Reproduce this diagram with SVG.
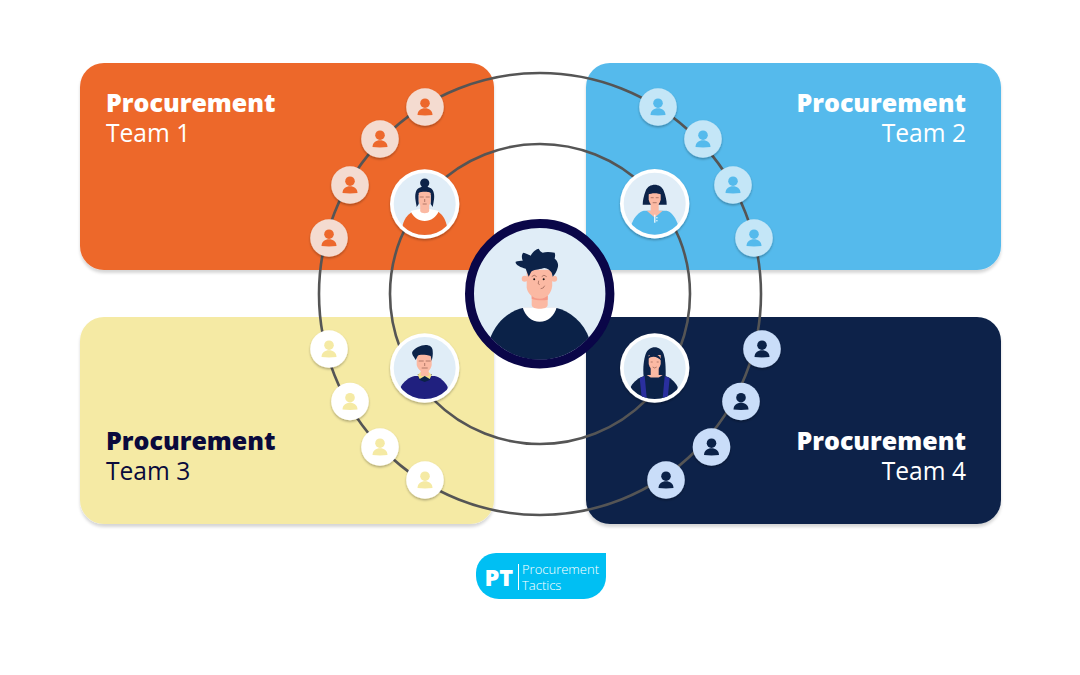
<svg xmlns="http://www.w3.org/2000/svg" width="1080" height="675" viewBox="0 0 1080 675">
<style>
.bg{fill:#fff}
.card{filter:url(#cs)}
.title{font-family:"Open Sans","Noto Sans",sans-serif;font-weight:800;font-size:25px}
.sub{font-family:"Open Sans","Noto Sans",sans-serif;font-weight:400;font-size:24.6px}
.ring{fill:none;stroke:#555;stroke-width:2.6}
.dot{filter:url(#ds)}
.pr{fill:#fff;filter:url(#ds)}
.pb{fill:#e0edf7}
.skin{fill:#fbb9a3}
.hair{fill:#0c2349}
.white{fill:#fff}
.line{fill:none;stroke:#6b3a30;stroke-width:.5}
</style>
<defs>
<filter id="cs" x="-5%" y="-5%" width="110%" height="112%"><feDropShadow dx="0" dy="3" stdDeviation="1.5" flood-color="#000" flood-opacity=".16"/></filter>
<filter id="ds" x="-20%" y="-20%" width="140%" height="140%"><feDropShadow dx="0" dy="1.5" stdDeviation="1.2" flood-color="#000" flood-opacity=".3"/></filter>
<clipPath id="cp"><circle r="31"/></clipPath>
<clipPath id="cc"><circle r="66"/></clipPath>
<g id="person"><circle cy="-3.800" r="4.800"/><path d="M-7.500,8 C-7.500,3.500 -4,1.200 0,1.200 C4,1.200 7.500,3.500 7.500,8 Q0,8.800 -7.500,8 Z"/></g>
</defs>
<rect class="bg" width="1080" height="675"/>
<g id="team-1" class="card"><rect x="80" y="63" width="414" height="207" rx="24" fill="#ed682c"/></g>
<g id="team-2" class="card"><rect x="586" y="63" width="415" height="207" rx="24" fill="#55baec"/></g>
<g id="team-3" class="card"><rect x="80" y="317" width="414" height="207" rx="24" fill="#f5eaa4"/></g>
<g id="team-4" class="card"><rect x="586" y="317" width="415" height="207" rx="24" fill="#0b2248"/></g>
<g id="connectors">
<circle class="ring" cx="540" cy="294" r="221"/>
<circle class="ring" cx="540" cy="294" r="150"/>
</g>
<g id="team-labels">
<text class="title" x="106" y="112" fill="#fff">Procurement</text>
<text class="sub" x="106" y="142" fill="#fff">Team 1</text>
<text class="title" x="966" y="112" fill="#fff" text-anchor="end">Procurement</text>
<text class="sub" x="966" y="142" fill="#fff" text-anchor="end">Team 2</text>
<text class="title" x="106" y="450" fill="#0a0a3c">Procurement</text>
<text class="sub" x="106" y="480" fill="#0a0a3c">Team 3</text>
<text class="title" x="966" y="450" fill="#fff" text-anchor="end">Procurement</text>
<text class="sub" x="966" y="480" fill="#fff" text-anchor="end">Team 4</text>
</g>
<g id="members-1" fill="#ed682c">
<g id="m1a" transform="translate(425,107)"><circle class="dot" r="18.800" fill="#f4dbd0"/><use href="#person"/></g>
<g id="m1b" transform="translate(380,139)"><circle class="dot" r="18.800" fill="#f4dbd0"/><use href="#person"/></g>
<g id="m1c" transform="translate(350,185)"><circle class="dot" r="18.800" fill="#f4dbd0"/><use href="#person"/></g>
<g id="m1d" transform="translate(329,238)"><circle class="dot" r="18.800" fill="#f4dbd0"/><use href="#person"/></g>
</g>
<g id="members-2" fill="#55baec">
<g id="m2a" transform="translate(658,107)"><circle class="dot" r="18.800" fill="#c4e6f7"/><use href="#person"/></g>
<g id="m2b" transform="translate(703,139)"><circle class="dot" r="18.800" fill="#c4e6f7"/><use href="#person"/></g>
<g id="m2c" transform="translate(733,185)"><circle class="dot" r="18.800" fill="#c4e6f7"/><use href="#person"/></g>
<g id="m2d" transform="translate(754,238)"><circle class="dot" r="18.800" fill="#c4e6f7"/><use href="#person"/></g>
</g>
<g id="members-3" fill="#f5eaa4">
<g id="m3a" transform="translate(329,349)"><circle class="dot" r="18.800" fill="#fff"/><use href="#person"/></g>
<g id="m3b" transform="translate(350,401.500)"><circle class="dot" r="18.800" fill="#fff"/><use href="#person"/></g>
<g id="m3c" transform="translate(380,447)"><circle class="dot" r="18.800" fill="#fff"/><use href="#person"/></g>
<g id="m3d" transform="translate(425,480)"><circle class="dot" r="18.800" fill="#fff"/><use href="#person"/></g>
</g>
<g id="members-4" fill="#0b2248">
<g id="m4a" transform="translate(762,349)"><circle class="dot" r="18.800" fill="#c9ddf9"/><use href="#person"/></g>
<g id="m4b" transform="translate(741,401.500)"><circle class="dot" r="18.800" fill="#c9ddf9"/><use href="#person"/></g>
<g id="m4c" transform="translate(711.500,447)"><circle class="dot" r="18.800" fill="#c9ddf9"/><use href="#person"/></g>
<g id="m4d" transform="translate(666,480)"><circle class="dot" r="18.800" fill="#c9ddf9"/><use href="#person"/></g>
</g>
<g id="lead-1" transform="translate(424.700,204)">
<circle class="pr" r="34.700"/><circle class="pb" r="31"/>
<g clip-path="url(#cp)">
<path d="M-22,33 V21 C-20,13 -15,9 -11,7 H12 C16,9 20,13 22,21 V33 Z" fill="#ed682c"/>
<path d="M-14,7 C-10,6 -6,5 -4,5 H4 C6,5 10,6 14,7 C12,13 6,17 0,17 C-6,17 -12,13 -14,7 Z" class="white"/>
<path d="M-4.500,-2 H4.500 V7 C4,10 -4,10 -4.500,7 Z" class="skin"/>
<circle cy="-21" r="4.600" class="hair"/>
<path d="M-8,3 C-9,-3 -10.500,-8 -8.500,-13 C-6,-19 6,-19 8.500,-13 C10.500,-8 9,-3 8,3 L6,0 V-9 H-6 V0 Z" class="hair"/>
<path d="M-6,-11 C-4,-13 4,-13 6,-11 V-3 C5.500,1 3,3 0,3 C-3,3 -5.500,1 -6,-3 Z" class="skin"/>
<path d="M-5,-7 H-1 M1,-7 H5 M0,-5 V-2 M-2,0 H2" class="line"/>
<path d="M-7,-11 C-4,-16 4,-16 7,-11 C4,-13 -4,-13 -7,-11 Z" class="hair"/>
</g></g>
<g id="lead-2" transform="translate(654.700,203.700)">
<circle class="pr" r="34.700"/><circle class="pb" r="31"/>
<g clip-path="url(#cp)">
<path d="M-12,1 C-12,-3 -11,-8 -9,-13 C-6,-21 6,-21 9,-13 C11,-8 12,-3 12,1 C8,1 -8,1 -12,1 Z" class="hair"/>
<path d="M-23,33 V20 C-20,12 -15,8 -11,7 H12 C16,8 20,12 23,20 V33 Z" fill="#55baec"/>
<rect x="-4" y="-2" width="8" height="10" class="skin"/>
<path d="M-8,7 H8 L1,13 H-1 Z" class="skin"/>
<path d="M-6,-11 H6 V-4 C5,0 3,2 0,2 C-3,2 -5,0 -6,-4 Z" class="skin"/>
<path d="M-7,-9 C-6,-15 6,-15 7,-9 C3,-11 -3,-11 -7,-9 Z" class="hair"/>
<path d="M-4,-6 H-1 M1,-6 H4 M-2,-1 H2" class="line"/>
<rect x="-.5" y="11" width="1.200" height="8" class="white"/><circle cx="2.200" cy="14" r=".7" class="white"/><circle cx="2.200" cy="17" r=".7" class="white"/>
</g></g>
<g id="lead-3" transform="translate(424.700,368)">
<circle class="pr" r="34.700"/><circle class="pb" r="31"/>
<g clip-path="url(#cp)">
<path d="M-24,19 C-21,13 -15,9 -10,8 H10 C15,9 20,13 23,19 L22,33 H-22 Z" fill="#20207f"/>
<path d="M-7,6 H7 L5,12 L0,14 L-5,12 Z" fill="#0b2248"/>
<path d="M-7,7 L-4,4 H4 L7,7 L5,11 L0,8 L-5,11 Z" fill="#f2e088"/>
<rect x="-4" y="0" width="8" height="8" class="skin"/>
<path d="M-8,-14 H7 V-3 C6,2 3,4 0,4 C-4,4 -7,1 -8,-3 Z" class="skin"/>
<path d="M-9,-8 C-11,-12 -13,-13 -12.500,-16 C-10,-20 -4,-23 1,-23 C5,-23 8,-21 8,-17 C8.500,-13 7.500,-10 7,-7 L6,-12 C2,-13 -5,-14 -7,-12 Z" class="hair"/>
<path d="M-6,-7 H-1 M1,-7 H6 M0,-5 V-2 M-3,0 H3" class="line"/>
</g></g>
<g id="lead-4" transform="translate(654.700,368)">
<circle class="pr" r="34.700"/><circle class="pb" r="31"/>
<g clip-path="url(#cp)">
<path d="M-11,9 C-12,0 -11,-8 -9,-14 C-6,-23 6,-23 9,-14 C11,-8 11,0 11,9 Z" class="hair"/>
<path d="M-24,19 C-21,13 -15,9 -10,8 H10 C15,9 20,13 23,19 L22,33 H-22 Z" fill="#0b2248"/>
<path d="M-15,10 L-10,8 L-8,30 H-13 Z M15,10 L10,8 L8,30 H13 Z" fill="#2a2f9e"/>
<rect x="-4" y="0" width="8" height="8" class="skin"/>
<path d="M-8,7 H8 L4,9.500 H-4 Z" class="skin"/>
<path d="M-6,-13 H6 V-4 C5,0 3,2 0,2 C-3,2 -5,0 -6,-4 Z" class="skin"/>
<path d="M-7,-9 C-6,-16 5,-16 7,-7 C3,-11 -2,-13 -7,-9 Z" class="hair"/>
<path d="M-4,-6 H-2 M2,-6 H4 M-2,-1 Q0,1 2,-1" class="line"/>
</g></g>
<g id="manager" transform="translate(539.700,293.700)">
<circle r="70" fill="#e0edf7"/>
<g clip-path="url(#cc)">
<path d="M-50,72 V46 C-44,28 -30,17 -16,14 H16 C30,17 44,28 50,46 V72 Z" fill="#0b2248"/>
<path d="M-17,13.500 H17 C15,22 8,28 0,28 C-8,28 -15,22 -17,13.500 Z" class="white"/>
<path d="M-8,-3 H8 V11 C8,14 4,15 0,15 C-4,15 -8,14 -8,11 Z" class="skin"/>
<path d="M-8,2 H8 V6 C3,7 -3,7 -8,5 Z" fill="#f59a88"/>
<circle cx="-15" cy="-15" r="3" class="skin"/><circle cx="14.500" cy="-15" r="3" class="skin"/>
<path d="M-13,-24 H12.500 V-8 C12,-1 7,5 0,5 C-7,5 -12,0 -13,-6 Z" class="skin"/>
<path d="M-11,-17 L-14,-25 C-19,-26 -25,-29 -24,-32 C-22,-33 -19,-33 -17,-33 C-19,-38 -17,-41 -16,-41 C-13,-40 -11,-39 -9,-38 C-7,-42 -3,-45 -1,-45 C0,-43 1,-42 3,-41 C6,-42 10,-42 15,-41 C16,-38 15,-36 15,-35 C18,-33 19,-29 18,-26 C17,-22 15,-19 13,-17 L12,-21 C10,-24 6,-27 2,-25 C-3,-24 -8,-24 -9,-21 Z" class="hair"/>
<circle cx="-5.500" cy="-14.500" r="1" fill="#111"/><circle cx="4" cy="-14.500" r="1" fill="#111"/>
<path d="M-8,-17 Q-5.500,-20 -3,-17 M2,-17 Q4,-20 7,-17 M-1,-13 Q-2.500,-9 0,-9 M1,-5 Q4,-5 5,-8" class="line"/>
</g>
<circle r="70.200" fill="none" stroke="#0a0648" stroke-width="9"/>
</g>
<g id="logo">
<path d="M496,553 H606 V577 A22,22 0 0 1 584,599 H499 A23,23 0 0 1 476,576 V573 A20,20 0 0 1 496,553 Z" fill="#00bff3"/>
<text x="484.500" y="585.500" fill="#fff" font-family="Open Sans,Noto Sans,sans-serif" font-weight="800" font-size="23.500">PT</text>
<rect x="518" y="564" width="1" height="26" fill="#fff"/>
<text x="522" y="574" fill="#fff" font-family="Open Sans,Noto Sans,sans-serif" font-weight="300" font-size="13">Procurement</text>
<text x="522" y="590" fill="#fff" font-family="Open Sans,Noto Sans,sans-serif" font-weight="300" font-size="13">Tactics</text>
</g>
</svg>
